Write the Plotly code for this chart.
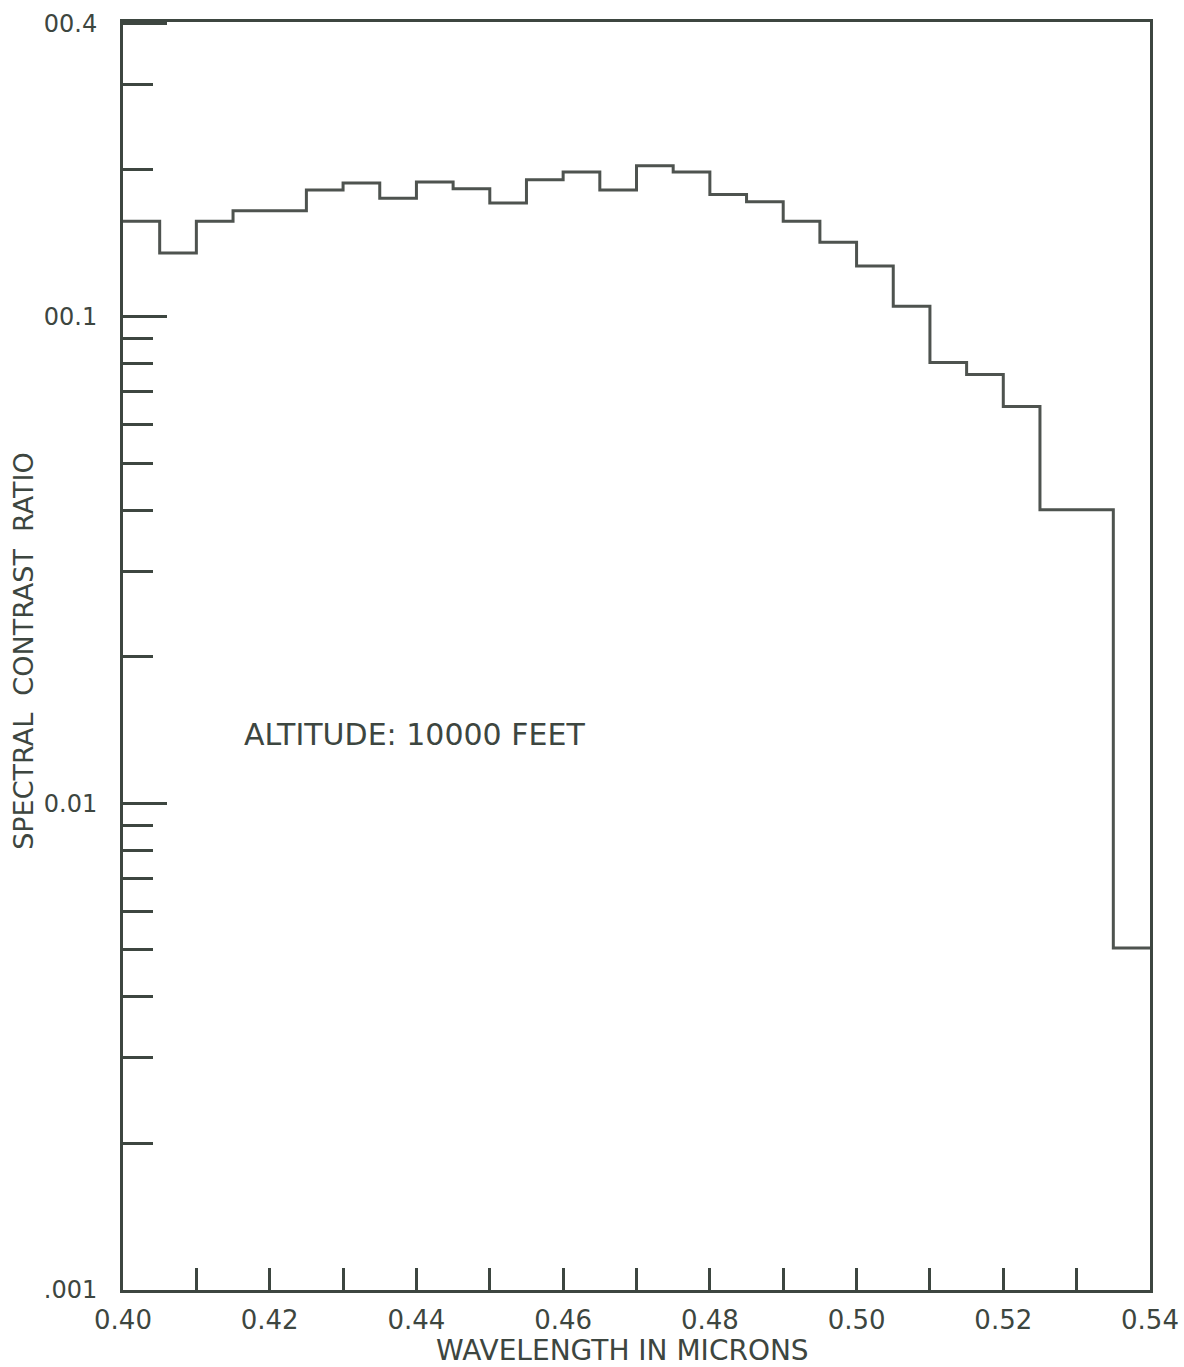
import math
import plotly.graph_objects as go

# Data: spectral contrast ratio in 0.005-micron bins from 0.400 to 0.540
bin_edges = [0.400, 0.405, 0.410, 0.415, 0.420, 0.425, 0.430, 0.435, 0.440, 0.445,
             0.450, 0.455, 0.460, 0.465, 0.470, 0.475, 0.480, 0.485, 0.490, 0.495,
             0.500, 0.505, 0.510, 0.515, 0.520, 0.525, 0.530, 0.535, 0.540]
contrast = [0.157, 0.135, 0.157, 0.165, 0.165, 0.182, 0.188, 0.175, 0.189, 0.183,
            0.171, 0.191, 0.198, 0.182, 0.204, 0.198, 0.178, 0.172, 0.157, 0.142,
            0.127, 0.105, 0.0804, 0.076, 0.0653, 0.0401, 0.0401, 0.00504]

x_tickvals = [0.40, 0.42, 0.44, 0.46, 0.48, 0.50, 0.52, 0.54]
x_ticktext = ["0.40", "0.42", "0.44", "0.46", "0.48", "0.50", "0.52", "0.54"]
x_minor = [0.41, 0.43, 0.45, 0.47, 0.49, 0.51, 0.53]

y_tickvals = [0.001, 0.01, 0.1, 0.4]
y_ticktext = [".001", "0.01", "00.1", "00.4"]
y_minor = [0.002, 0.003, 0.004, 0.005, 0.006, 0.007, 0.008, 0.009,
           0.02, 0.03, 0.04, 0.05, 0.06, 0.07, 0.08, 0.09, 0.2, 0.3]

annotation_text = "ALTITUDE: 10000 FEET"
annotation_x = 0.4397
annotation_y = 0.01387
x_title = "WAVELENGTH IN MICRONS"
y_title = "SPECTRAL\u00a0 CONTRAST\u00a0 RATIO"

INK = "#3d4640"
LINE = "#4e534f"
FONT = "DejaVu Sans, sans-serif"

fig = go.Figure()
fig.add_trace(go.Scatter(
    x=bin_edges,
    y=contrast + [contrast[-1]],
    mode="lines",
    line=dict(shape="hv", color=LINE, width=3),
    showlegend=False,
    hoverinfo="skip",
))

fig.add_annotation(
    x=annotation_x, y=math.log10(annotation_y), xref="x", yref="y",
    text=annotation_text, showarrow=False,
    font=dict(family=FONT, size=30, color=INK),
)
# axis titles
fig.add_annotation(
    x=-0.0965, y=0.504, xref="paper", yref="paper",
    text=y_title, textangle=-90, showarrow=False,
    xanchor="center", yanchor="middle",
    font=dict(family=FONT, size=27, color=INK),
)
fig.add_annotation(
    x=0.486, y=-0.048, xref="paper", yref="paper",
    text=x_title, showarrow=False,
    xanchor="center", yanchor="middle",
    font=dict(family=FONT, size=28, color=INK),
)

fig.update_layout(
    width=1184, height=1367,
    margin=dict(l=123, r=34, t=22, b=77),
    paper_bgcolor="white", plot_bgcolor="white",
    font=dict(family=FONT, color=INK),
    xaxis=dict(
        range=[0.40, 0.54],
        automargin=False,
        tickmode="array", tickvals=x_tickvals, ticktext=x_ticktext,
        ticks="inside", ticklen=22, tickwidth=3, tickcolor=INK,
        minor=dict(tickmode="array", tickvals=x_minor, ticks="inside",
                   ticklen=22, tickwidth=3, tickcolor=INK, showgrid=False),
        showgrid=False, zeroline=False,
        showline=True, linewidth=3, linecolor=INK, mirror=True,
        tickfont=dict(size=26, color=INK),
        ticklabelstandoff=5,
    ),
    yaxis=dict(
        type="log",
        range=[-3, -0.395],
        automargin=False,
        tickmode="array", tickvals=y_tickvals, ticktext=y_ticktext,
        ticks="inside", ticklen=44, tickwidth=3, tickcolor=INK,
        minor=dict(tickmode="array", tickvals=y_minor, ticks="inside",
                   ticklen=30, tickwidth=3, tickcolor=INK, showgrid=False),
        showgrid=False, zeroline=False,
        showline=True, linewidth=3, linecolor=INK, mirror=True,
        tickfont=dict(size=24, color=INK),
        ticklabelstandoff=18,
    ),
)

fig.write_html("out.html")
